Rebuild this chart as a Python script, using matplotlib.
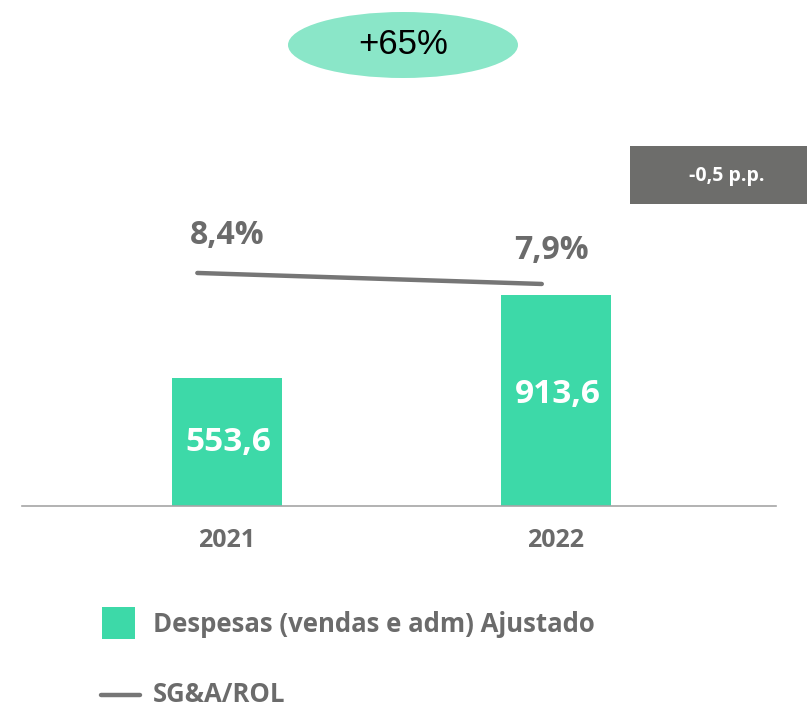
import matplotlib
matplotlib.use("Agg")
import matplotlib.pyplot as plt
from matplotlib.patches import Ellipse, Rectangle
from matplotlib.lines import Line2D

years = ["2021", "2022"]
despesas = [553.6, 913.6]
despesas_labels = ["553,6", "913,6"]
sga_rol = [8.4, 7.9]
sga_labels = ["8,4%", "7,9%"]
growth_label = "+65%"
delta_label = "-0,5 p.p."
legend_bar = "Despesas (vendas e adm) Ajustado"
legend_line = "SG&A/ROL"

W, H = 807, 711
BAR_C = "#3dd9a8"
GRAY = "#6b6b6b"
LINE_C = "#767676"
FONT = "Open Sans"

fig = plt.figure(figsize=(W / 100, H / 100), dpi=100)

def fx(px):
    return px / W

def fy(py):
    return 1 - py / H

ax_l, ax_r, ax_b, ax_t = 22, 776, 506, 100
ax = fig.add_axes([fx(ax_l), fy(ax_b), (ax_r - ax_l) / W, (ax_b - ax_t) / H])
xpos = list(range(len(years)))
ax.bar(xpos, despesas, width=0.334, color=BAR_C, zorder=2)
ax.set_xlim(-0.623, 1.669)
ax.set_ylim(0, 1756)
for s in ["top", "right", "left"]:
    ax.spines[s].set_visible(False)
ax.spines["bottom"].set_color("#a6a6a6")
ax.spines["bottom"].set_linewidth(1.2)
ax.set_yticks([])
ax.set_xticks(xpos)
ax.set_xticklabels(years, fontsize=18, fontweight="bold", color=GRAY, family=FONT)
ax.tick_params(axis="x", length=0, pad=16)
ax.patch.set_alpha(0)

for i, (v, lab) in enumerate(zip(despesas, despesas_labels)):
    ax.text(xpos[i] + 0.005, v / 2 + (0 if i == 0 else 25), lab, ha="center", va="center",
            fontsize=24, fontweight="bold", color="white", family=FONT, zorder=3)

ax2 = ax.twinx()
ax2.set_ylim(-2.19, 16.26)
ax2.axis("off")
line_x = [xpos[0] - 0.09, xpos[1] - 0.043]
ax2.plot(line_x, sga_rol, color=LINE_C, lw=3.2, solid_capstyle="round", zorder=4)
offs = [(0, 27), (-3, 24)]
for i, (v, lab) in enumerate(zip(sga_rol, sga_labels)):
    ax2.annotate(lab, (xpos[i], v), xytext=offs[i], textcoords="offset points",
                 ha="center", va="center", fontsize=23, fontweight="bold",
                 color=GRAY, family=FONT)

# growth ellipse
fig.patches.append(Ellipse((fx(403), fy(45)), 230 / W, 66 / H, transform=fig.transFigure,
                           facecolor="#8ae6c8", edgecolor="none"))
fig.text(fx(403), fy(45), growth_label, ha="center", va="center", fontsize=25,
         color="black", family="Liberation Sans")

# delta box
fig.patches.append(Rectangle((fx(630), fy(204)), 177 / W, 58 / H, transform=fig.transFigure,
                             facecolor="#6d6d6b", edgecolor="none"))
fig.text(fx(727), fy(176), delta_label, ha="center", va="center", fontsize=14,
         fontweight="bold", color="white", family=FONT)

# legend
fig.patches.append(Rectangle((fx(102), fy(639)), 33 / W, 32 / H, transform=fig.transFigure,
                             facecolor=BAR_C, edgecolor="none"))
fig.text(fx(153), fy(624), legend_bar, ha="left", va="center", fontsize=18.5,
         fontweight="bold", color=GRAY, family=FONT)
fig.lines.append(Line2D([fx(101), fx(140)], [fy(695), fy(695)], transform=fig.transFigure,
                        color=LINE_C, lw=3.2, solid_capstyle="round"))
fig.text(fx(153), fy(695), legend_line, ha="left", va="center", fontsize=18.5,
         fontweight="bold", color=GRAY, family=FONT)

fig.savefig("out.png", dpi=100)
